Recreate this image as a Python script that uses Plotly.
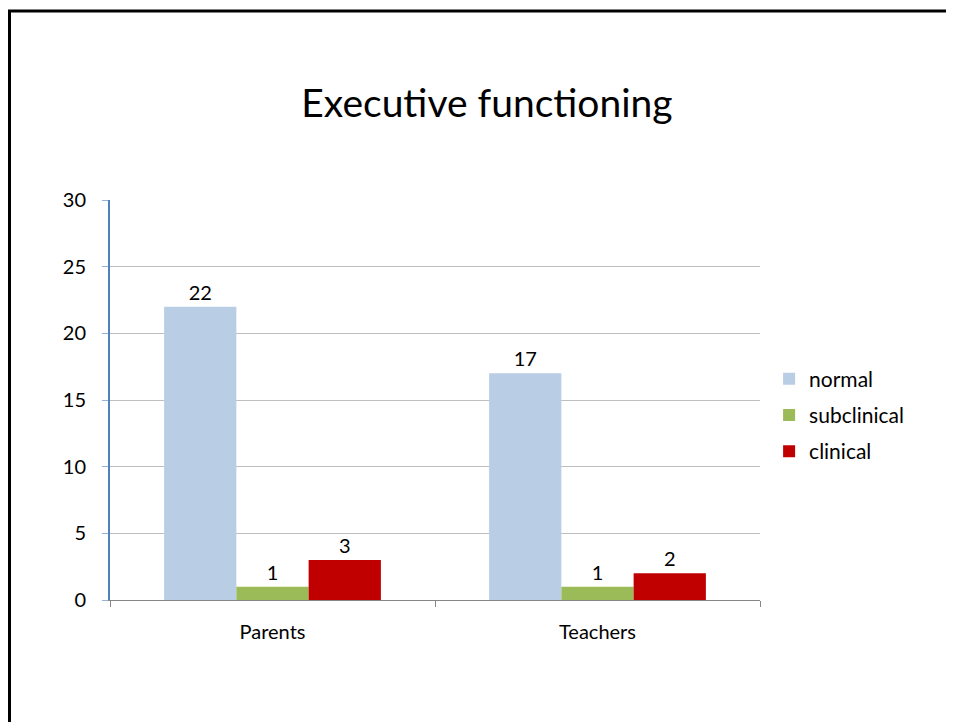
import plotly.graph_objects as go

groups = ["Parents", "Teachers"]
normal = [22, 17]
subclinical = [1, 1]
clinical = [3, 2]

series = [
    ("normal", normal, "#B9CDE5"),
    ("subclinical", subclinical, "#9BBB59"),
    ("clinical", clinical, "#C00000"),
]

fig = go.Figure()
for name, vals, color in series:
    fig.add_trace(
        go.Bar(
            x=groups,
            y=vals,
            name=name,
            legendgroup=name,
            marker=dict(color=color, line=dict(width=0)),
            text=[str(v) for v in vals],
            textposition="outside",
            textfont=dict(size=20, color="#000000"),
            cliponaxis=False,
        )
    )

# page body has an 8px margin, so the figure is drawn 8px in from the window edge
fig.update_layout(
    width=946,
    height=714,
    autosize=False,
    margin=dict(l=102, r=194, t=192, b=122),
    paper_bgcolor="white",
    plot_bgcolor="white",
    font=dict(family="Lato, Open Sans, sans-serif", size=20, color="#000000"),
    title=dict(
        text="Executive functioning",
        x=(479 / 946),
        xanchor="center",
        y=1 - 95 / 714,
        yanchor="middle",
        font=dict(size=39),
    ),
    barmode="group",
    bargap=0.333,
    bargroupgap=0,
    showlegend=True,
    legend=dict(
        x=1.014,
        xanchor="left",
        y=0.4625,
        yanchor="middle",
        font=dict(size=21),
        itemsizing="constant",
        tracegroupgap=6,
        bgcolor="rgba(0,0,0,0)",
    ),
    shapes=[
        dict(
            type="rect",
            xref="paper",
            yref="paper",
            x0=(9.5 - 110) / 650,
            x1=1.6,
            y0=-0.6,
            y1=(600 - 11) / 400,
            line=dict(color="#000000", width=3),
            layer="below",
        )
    ],
)

fig.update_yaxes(
    range=[0, 30],
    dtick=5,
    showgrid=True,
    gridcolor="#BFBFBF",
    gridwidth=1,
    zeroline=False,
    showline=True,
    linecolor="#4F81BD",
    linewidth=2,
    ticks="outside",
    ticklen=6,
    tickcolor="#95B3D7",
    tickfont=dict(size=20),
    ticklabelstandoff=12,
)
fig.update_xaxes(
    showline=True,
    linecolor="#868686",
    linewidth=1,
    ticks="outside",
    ticklen=6,
    tickcolor="#868686",
    tickson="boundaries",
    tickfont=dict(size=20),
    ticklabelstandoff=14,
    showgrid=False,
)

fig.write_html("out.html")
